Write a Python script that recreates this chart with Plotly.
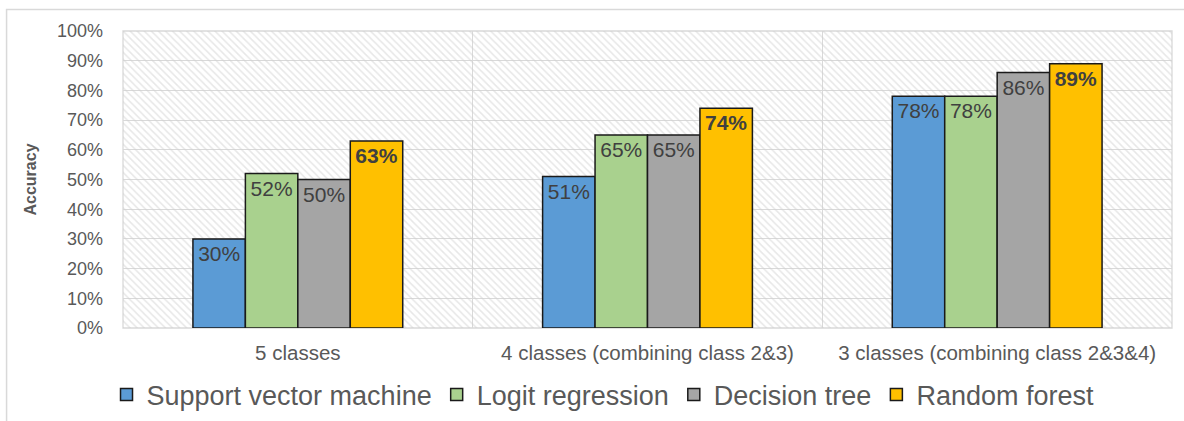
import plotly.graph_objects as go

categories = ["5 classes", "4 classes (combining class 2&3)", "3 classes (combining class 2&3&4)"]
series_names = ["Support vector machine", "Logit regression", "Decision tree", "Random forest"]
svm = [0.30, 0.51, 0.78]
logit = [0.52, 0.65, 0.78]
dtree = [0.50, 0.65, 0.86]
rforest = [0.63, 0.74, 0.89]
y_ticks = [0, 0.1, 0.2, 0.3, 0.4, 0.5, 0.6, 0.7, 0.8, 0.9, 1.0]
y_tick_labels = ["0%", "10%", "20%", "30%", "40%", "50%", "60%", "70%", "80%", "90%", "100%"]

colors = ["#5B9BD5", "#A9D18E", "#A5A5A5", "#FFC000"]
values = [svm, logit, dtree, rforest]

fig = go.Figure()

# hatched background on linear axis x (gridlines at category boundaries)
fig.add_trace(go.Bar(
    x=[1.5], y=[1.0], width=[3], xaxis="x", yaxis="y",
    marker=dict(color="rgba(0,0,0,0)", line=dict(width=0),
                pattern=dict(shape="\\", fgcolor="#CFCFCF", bgcolor="rgba(0,0,0,0)", size=5, solidity=0.3)),
    showlegend=False, hoverinfo="skip",
))

for i, (name, vals) in enumerate(zip(series_names, values)):
    bold = i == 3
    fig.add_trace(go.Bar(
        name=name, x=categories, y=vals, xaxis="x2", yaxis="y",
        marker=dict(color=colors[i], line=dict(color="#1a1a1a", width=1.5)),
        text=vals, texttemplate="%{y:.0%}", textposition="inside",
        insidetextanchor="end", textangle=0,
        textfont=dict(family="Liberation Sans, Arial", size=21, color="#404040",
                      weight="bold" if bold else "normal"),
    ))

fig.update_layout(
    width=1184, height=421,
    margin=dict(l=123, r=12, t=31, b=93, autoexpand=False),
    paper_bgcolor="white", plot_bgcolor="white",
    barmode="group", bargap=0.4, bargroupgap=0,
    font=dict(family="Liberation Sans, Arial", color="#595959"),
    xaxis=dict(range=[0, 3], showgrid=True, dtick=1, gridcolor="#D9D9D9", gridwidth=1.3,
               showticklabels=False, zeroline=False, showline=False, ticks=""),
    xaxis2=dict(overlaying="x", side="bottom", type="category", showgrid=False,
                tickfont=dict(size=20.5, color="#595959"), ticks="", showline=False,
                ticklabelstandoff=10, automargin=False),
    yaxis=dict(range=[0, 1.0], tickvals=y_ticks, ticktext=y_tick_labels,
               gridcolor="#D9D9D9", gridwidth=1.3, zeroline=False,
               tickfont=dict(size=18, color="#595959"), automargin=False,
               title=dict(text="<b>Accuracy</b>", font=dict(size=16, color="#595959"), standoff=16),
               showline=False, ticks="", ticklabelstandoff=19),
    legend=dict(orientation="h", x=0.4576, xanchor="center", yref="container", y=0.062, yanchor="middle",
                font=dict(size=27, color="#595959"), traceorder="normal",
                itemwidth=30),
    showlegend=True,
)

# plot area border and outer chart frame
fig.add_shape(type="rect", xref="paper", yref="paper", x0=0, x1=1, y0=0, y1=1,
              line=dict(color="#D9D9D9", width=1.3), layer="below")
fig.add_shape(type="rect", xref="paper", yref="paper", x0=-0.111, x1=1.02, y0=-0.32, y1=1.072,
              line=dict(color="#D9D9D9", width=1.5), layer="below")

fig.write_html("out.html")
